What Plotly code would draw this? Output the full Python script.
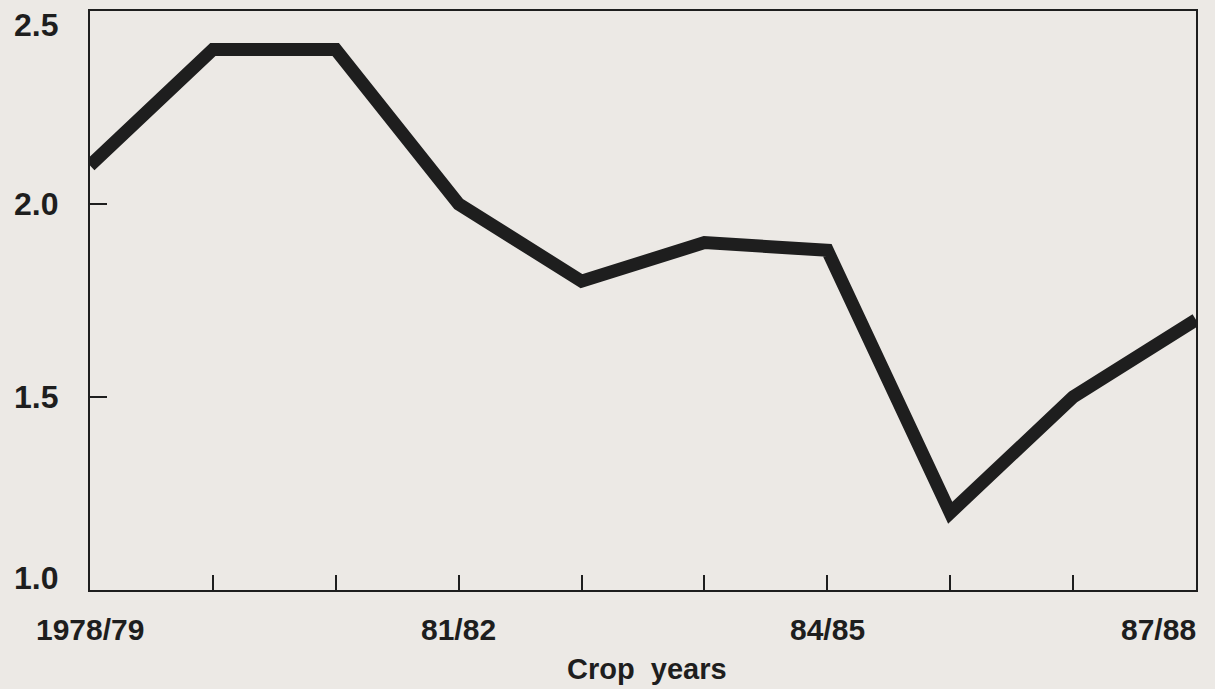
import plotly.graph_objects as go

crop_years = ['1978/79', '79/80', '80/81', '81/82', '82/83', '83/84', '84/85', '85/86', '86/87', '87/88']
values = [2.10, 2.40, 2.40, 2.00, 1.80, 1.90, 1.88, 1.20, 1.50, 1.70]
labelled_years = ['1978/79', '81/82', '84/85', '87/88']
y_ticks = [1.0, 1.5, 2.0, 2.5]

bg = '#ece9e5'
ink = '#1e1e1e'
font = 'Liberation Sans, Arial, sans-serif'

x_idx = list(range(len(crop_years)))

fig = go.Figure()
fig.add_trace(go.Scatter(x=x_idx, y=values, mode='lines',
                         line=dict(color=ink, width=13), hoverinfo='skip'))

# x labels under selected ticks; the last one is pulled inside the frame
for name in labelled_years:
    i = crop_years.index(name)
    anchor = 'right' if i == len(crop_years) - 1 else 'center'
    fig.add_annotation(x=i, y=0, xref='x', yref='paper', text='<b>%s</b>' % name,
                       showarrow=False, xanchor=anchor, yanchor='top', yshift=-21,
                       xshift=2 if anchor == 'right' else 0,
                       font=dict(family=font, size=30, color=ink))

# y labels, end values kept inside the page
for v in y_ticks:
    ya, shift = 'middle', 0
    if v == max(y_ticks):
        ya, shift = 'top', 6
    elif v == min(y_ticks):
        ya, shift = 'bottom', -8
    fig.add_annotation(x=0, y=v, xref='paper', yref='y', text='<b>%.1f</b>' % v,
                       showarrow=False, xanchor='right', yanchor=ya, xshift=-30,
                       yshift=shift,
                       font=dict(family=font, size=32, color=ink))

fig.add_annotation(x=0.5, y=0, xref='paper', yref='paper', text='<b>Crop  years</b>',
                   showarrow=False, xanchor='center', yanchor='top', yshift=-61,
                   xshift=4, font=dict(family=font, size=29, color=ink))

fig.update_xaxes(range=[0, len(crop_years) - 1], tickvals=x_idx, ticktext=[''] * len(x_idx),
                 ticks='inside', ticklen=15, tickwidth=1.5, tickcolor=ink,
                 showline=True, linewidth=2, linecolor=ink, mirror=True,
                 showgrid=False, zeroline=False, fixedrange=True)
fig.update_yaxes(range=[1.0, 2.5], tickvals=y_ticks, showticklabels=False,
                 ticks='inside', ticklen=17, tickwidth=1.5, tickcolor=ink,
                 showline=True, linewidth=2, linecolor=ink, mirror=True,
                 showgrid=False, zeroline=False, fixedrange=True)

fig.update_layout(width=1215, height=689, showlegend=False,
                  paper_bgcolor=bg, plot_bgcolor=bg,
                  margin=dict(l=90, r=19, t=9, b=99))

fig.write_html("out.html", config={'displayModeBar': False},
               post_script="document.body.style.margin='0';document.body.style.background='%s';" % bg)
